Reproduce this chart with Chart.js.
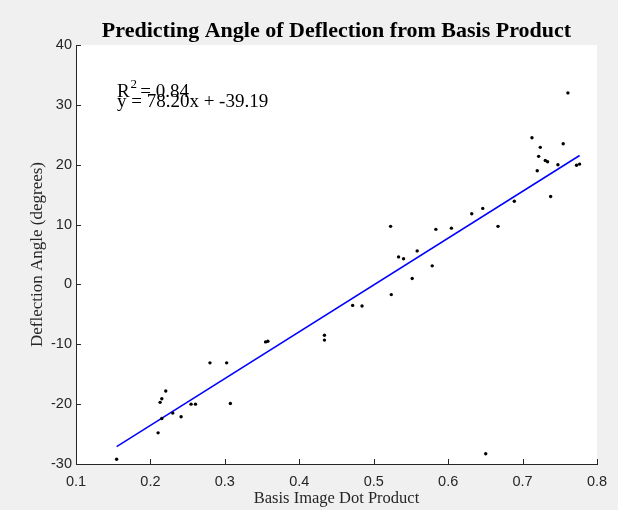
<!DOCTYPE html>
<html>
<head>
<meta charset="utf-8">
<script src="https://cdn.jsdelivr.net/npm/chart.js@4.4.1/dist/chart.umd.min.js"></script>
<style>
  html, body { margin: 0; padding: 0; background: #f0f0f0; }
  #wrap { position: relative; width: 618px; height: 510px; }
</style>
</head>
<body>
<div id="wrap"><canvas id="c"></canvas></div>
<script>
// measured samples: basis image dot product vs deflection angle (deg)
const dotProduct = [
  0.1546, 0.2103, 0.2130, 0.2153, 0.2206, 0.2153, 0.2300, 0.2412, 0.2546, 0.2605,
  0.2800, 0.3024, 0.3074, 0.3547, 0.3578, 0.4338, 0.4338, 0.4717, 0.4843, 0.5227,
  0.5236, 0.5334, 0.5401, 0.5517, 0.5584, 0.5786, 0.5835, 0.6044, 0.6317, 0.6465,
  0.6505, 0.6670, 0.6889, 0.7126, 0.7197, 0.7216, 0.7238, 0.7305, 0.7336, 0.7377,
  0.7475, 0.7546, 0.7609, 0.7725, 0.7766,
];
const deflection = [
  -29.2, -24.8, -19.7, -19.1, -17.8, -22.4, -21.5, -22.1, -20.0, -20.0,
  -13.1, -13.1, -19.9, -9.6, -9.5, -8.5, -9.3, -3.5, -3.6, 9.7,
  -1.7, 4.6, 4.3, 1.0, 5.6, 3.1, 9.2, 9.4, 11.8, 12.7,
  -28.3, 9.7, 13.9, 24.5, 19.0, 21.4, 22.9, 20.7, 20.5, 14.7,
  20.0, 23.5, 32.0, 19.9, 20.1,
];
// fitted line y = 78.20x - 39.19 at the ends of the data
const fitX = [0.1546, 0.7766];
const fitY = [-27.10, 21.54];
const xTicks = [0.1, 0.2, 0.3, 0.4, 0.5, 0.6, 0.7, 0.8];
const yTicks = [-30, -20, -10, 0, 10, 20, 30, 40];

const titleText = "Predicting Angle of Deflection from Basis Product";
const xTitle = "Basis Image Dot Product";
const yTitle = "Deflection Angle (degrees)";
const r2Text = "0.84";
const eqText = "y = 78.20x + -39.19";

const axisColor = "#262626";
const serif = '"Liberation Serif", "Times New Roman", serif';
const sans = '"Liberation Sans", Arial, sans-serif';

const scatterPts = dotProduct.map((x, i) => ({ x, y: deflection[i] }));
const linePts = fitX.map((x, i) => ({ x, y: fitY[i] }));

const decor = {
  id: "decor",
  beforeDraw(chart) {
    const { ctx, chartArea: a } = chart;
    ctx.save();
    ctx.fillStyle = "#ffffff";
    ctx.fillRect(a.left, a.top, a.right - a.left, a.bottom - a.top);
    ctx.restore();
  },
  afterDraw(chart) {
    const { ctx, chartArea: a, scales } = chart;
    ctx.save();
    // inward tick marks
    ctx.strokeStyle = axisColor;
    ctx.lineWidth = 1;
    ctx.beginPath();
    scales.x.ticks.forEach((t) => {
      const px = Math.round(scales.x.getPixelForValue(t.value)) + 0.5;
      ctx.moveTo(px, a.bottom);
      ctx.lineTo(px, a.bottom - 5);
    });
    scales.y.ticks.forEach((t) => {
      const py = Math.round(scales.y.getPixelForValue(t.value)) + 0.5;
      ctx.moveTo(a.left, py);
      ctx.lineTo(a.left + 5, py);
    });
    ctx.stroke();

    // title
    ctx.fillStyle = "#000000";
    ctx.textAlign = "center";
    ctx.textBaseline = "alphabetic";
    ctx.font = "bold 22px " + serif;
    ctx.fillText(titleText, (a.left + a.right) / 2, 37);

    // axis titles
    ctx.fillStyle = axisColor;
    ctx.font = "16.5px " + serif;
    ctx.fillText(xTitle, (a.left + a.right) / 2, 503);
    ctx.save();
    ctx.font = "17px " + serif;
    ctx.translate(42, (a.top + a.bottom) / 2);
    ctx.rotate(-Math.PI / 2);
    ctx.fillText(yTitle, 0, 0);
    ctx.restore();

    // annotation
    ctx.fillStyle = "#000000";
    ctx.textAlign = "left";
    const ax = scales.x.getPixelForValue(0.155);
    ctx.font = "19px " + serif;
    ctx.fillText("R", ax, 97);
    const rw = ctx.measureText("R").width;
    ctx.font = "13px " + serif;
    ctx.fillText("2", ax + rw + 1, 88);
    ctx.font = "19px " + serif;
    ctx.fillText(" = " + r2Text, ax + rw + 6, 97);
    ctx.fillText(eqText, ax, 107);
    ctx.restore();
  },
};

new Chart(document.getElementById("c"), {
  type: "scatter",
  data: {
    datasets: [
      {
        label: "fit",
        type: "line",
        data: linePts,
        borderColor: "#0000ff",
        borderWidth: 1.5,
        pointRadius: 0,
        fill: false,
        order: 1,
      },
      {
        label: "samples",
        data: scatterPts,
        backgroundColor: "#000000",
        borderColor: "#000000",
        pointRadius: 1.7,
        borderWidth: 0,
        order: 0,
      },
    ],
  },
  plugins: [decor],
  options: {
    responsive: true,
    maintainAspectRatio: false,
    animation: false,
    layout: { padding: { top: 45, right: 21, left: 0, bottom: 0 } },
    plugins: { legend: { display: false }, tooltip: { enabled: false }, title: { display: false } },
    scales: {
      x: {
        type: "linear",
        min: 0.1,
        max: 0.8,
        afterFit: (s) => { s.height = 46; },
        afterBuildTicks: (s) => { s.ticks = xTicks.map((v) => ({ value: v })); },
        ticks: { color: axisColor, padding: 9, font: { family: sans, size: 14.5 }, callback: (v) => v.toFixed(1) },
        grid: { display: true, drawOnChartArea: false, drawTicks: false },
        border: { display: true, color: axisColor, width: 1 },
      },
      y: {
        min: -30,
        max: 40,
        afterFit: (s) => { s.width = 76; },
        afterBuildTicks: (s) => { s.ticks = yTicks.map((v) => ({ value: v })); },
        ticks: { color: axisColor, padding: 4, font: { family: sans, size: 14.5 } },
        grid: { display: true, drawOnChartArea: false, drawTicks: false },
        border: { display: true, color: axisColor, width: 1 },
      },
    },
  },
});
</script>
</body>
</html>
